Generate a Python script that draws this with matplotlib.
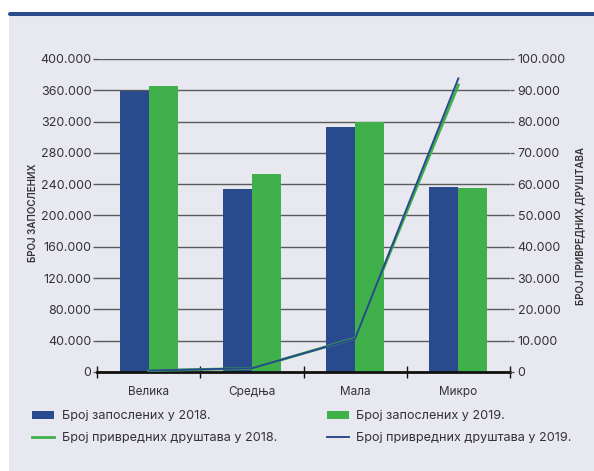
import matplotlib.pyplot as plt
from matplotlib.patches import Rectangle
from matplotlib.lines import Line2D
from matplotlib.ticker import FuncFormatter

plt.rcParams['font.family'] = ['Inter', 'DejaVu Sans']

categories = ['Велика', 'Средња', 'Мала', 'Микро']
employees_2018 = [359000, 234000, 313500, 236400]
employees_2019 = [365500, 253000, 319000, 234800]
companies_2018 = [450, 1150, 10800, 91700]
companies_2019 = [470, 1200, 10700, 93800]

BLUE = '#294a8c'
GREEN = '#3fb04a'
BG = '#e8e8f1'
TXT = '#333333'


def thousands(v, pos):
    return f'{int(v):,}'.replace(',', '.')


fig = plt.figure(figsize=(5.94, 4.71), dpi=100)
fig.patch.set_facecolor('white')

# panel background and top bar
fig.patches.append(Rectangle((9 / 594, 0), 1, (471 - 15) / 471,
                             transform=fig.transFigure, facecolor=BG,
                             edgecolor='none', zorder=-10))
fig.lines.append(Line2D([10 / 594, 1.01], [1 - 14 / 471, 1 - 14 / 471],
                        transform=fig.transFigure, color=BLUE, lw=2.9,
                        solid_capstyle='round'))

ax = fig.add_axes([97 / 594, 99 / 471, 413 / 594, 313 / 471])
ax.set_facecolor('none')
x = list(range(len(categories)))
w = 0.28
ax.bar([i - w / 2 for i in x], employees_2018, width=w, color=BLUE,
       label='Број запослених у 2018.')
ax.bar([i + w / 2 for i in x], employees_2019, width=w, color=GREEN,
       label='Број запослених у 2019.')
ax.set_xlim(-0.5, 3.5)
ax.set_ylim(0, 400000)
ax.set_yticks(range(0, 400001, 40000))
ax.yaxis.set_major_formatter(FuncFormatter(thousands))
ax.set_axisbelow(True)
ax.grid(axis='y', color='#5a5a5a', lw=1)
for s in ['top', 'right', 'left']:
    ax.spines[s].set_visible(False)
ax.spines['bottom'].set_color('#111111')
ax.spines['bottom'].set_linewidth(2)
ax.tick_params(axis='y', length=3, width=1, color='#5a5a5a', pad=1,
               labelsize=9, labelcolor=TXT)
ax.set_xticks([-0.5, 0.5, 1.5, 2.5, 3.5])
ax.set_xticklabels([])
ax.set_xticks(x, minor=True)
ax.set_xticklabels(categories, minor=True)
ax.tick_params(axis='x', which='major', direction='inout', length=8,
               width=1, color='#111111')
ax.tick_params(axis='x', which='minor', length=0, pad=10, labelsize=8.5,
               labelcolor=TXT)
ax.set_ylabel('БРОЈ ЗАПОСЛЕНИХ', fontsize=7, fontweight='semibold',
              color=TXT)
ax.yaxis.set_label_coords(-0.143, 0.51)

ax2 = ax.twinx()
ax2.plot(x, companies_2018, color=GREEN, lw=2,
         label='Број привредних друштава у 2018.')
ax2.plot(x, companies_2019, color=BLUE, lw=1.4,
         label='Број привредних друштава у 2019.')
ax2.set_ylim(0, 100000)
ax2.set_yticks(range(0, 100001, 10000))
ax2.yaxis.set_major_formatter(FuncFormatter(thousands))
for s in ax2.spines.values():
    s.set_visible(False)
ax2.tick_params(axis='y', length=3, width=1, color='#5a5a5a', pad=2.5,
                labelsize=9, labelcolor=TXT)
ax2.set_ylabel('БРОЈ ПРИВРЕДНИХ ДРУШТАВА', fontsize=7,
               fontweight='semibold', color=TXT, rotation=90)
ax2.yaxis.set_label_coords(1.157, 0.465)

h1, l1 = ax.get_legend_handles_labels()
h2, l2 = ax2.get_legend_handles_labels()
handles = [h1[0], h2[0], h1[1], h2[1]]
labels = [l1[0], l2[0], l1[1], l2[1]]
fig.legend(handles, labels, ncol=2, loc='upper left',
           bbox_to_anchor=(21 / 594, 1 - 399 / 471), frameon=False,
           fontsize=9.1, labelcolor=TXT, handlelength=1.75,
           handleheight=0.6, handletextpad=0.6, labelspacing=0.75,
           columnspacing=3.9)

fig.savefig('out.png', dpi=100)
